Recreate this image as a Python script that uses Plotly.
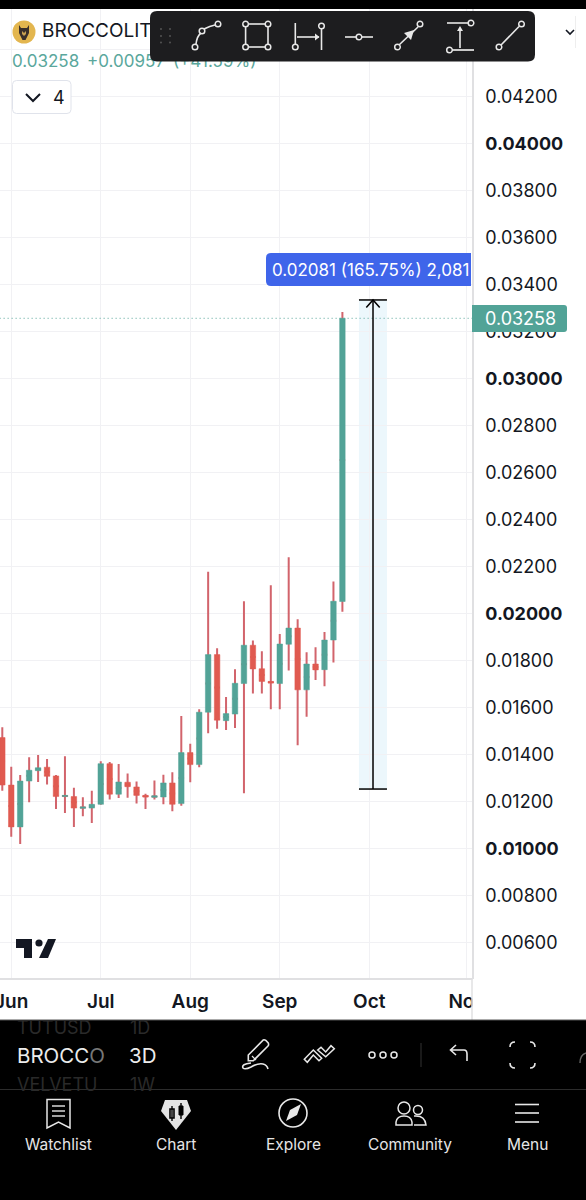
import plotly.graph_objects as go

# ---------- data ----------
bars = list(range(39))
opens = [.01474,.01272,.01094,.01289,.01333,.01348,.01311,.01223,.01223,.01173,
         .01174,.01190,.01363,.01233,.01284,.01264,.01228,.01220,.01221,.01281,
         .01193,.01410,.01359,.01582,.01827,.01546,.01574,.01704,.01867,.01767,
         .01713,.01704,.01871,.01940,.01677,.01787,.01763,.01889,.02053]
closes = [.01272,.01094,.01289,.01335,.01346,.01309,.01223,.01228,.01174,.01179,
          .01190,.01363,.01233,.01285,.01265,.01228,.01221,.01226,.01281,.01190,
          .01410,.01359,.01582,.01827,.01548,.01576,.01705,.01867,.01766,.01713,
          .01706,.01872,.01940,.01677,.01787,.01762,.01889,.02054,.03258]
highs = [.01518,.01350,.01315,.01390,.01400,.01383,.01315,.01394,.01260,.01220,
         .01248,.01373,.01370,.01362,.01321,.01287,.01235,.01291,.01316,.01326,
         .01566,.01448,.01594,.02180,.01854,.01647,.01765,.02054,.01887,.01841,
         .02122,.01915,.02241,.01977,.01837,.01858,.01923,.02138,.03285]
lows = [.01248,.01052,.01021,.01199,.01285,.01274,.01170,.01153,.01094,.01139,
        .01111,.01188,.01211,.01217,.01218,.01194,.01170,.01211,.01190,.01160,
        .01184,.01284,.01348,.01492,.01512,.01506,.01515,.01237,.01661,.01662,
        .01594,.01594,.01759,.01441,.01563,.01719,.01692,.01793,.02009]

month_bars = [1, 11, 21, 31, 41, 51.9]
month_labels = ["Jun", "Jul", "Aug", "Sep", "Oct", "Nov"]
price_ticks = [.006,.008,.010,.012,.014,.016,.018,.020,.022,.024,.026,.028,.030,
               .032,.034,.036,.038,.040,.042,.044]
price_labels = ["0.00600","0.00800","<b>0.01000</b>","0.01200","0.01400","0.01600",
                "0.01800","<b>0.02000</b>","0.02200","0.02400","0.02600","0.02800",
                "<b>0.03000</b>","0.03200","0.03400","0.03600","0.03800",
                "<b>0.04000</b>","0.04200",""]
last_price = 0.03258
measure_low = 0.01255
measure_high = 0.03336
measure_left = 39.85
measure_mid = 41.42
measure_right = 42.98

GREEN = "#52a397"
RED = "#e05a50"
WICK = "#d2646c"
FONT = "Inter, 'Noto Sans', sans-serif"
BLACK = "#000000"
BAR = "#1d1d1f"
LIGHT = "#e8e8e8"
GRID = "#f1f1f4"
EDGE = "#e0e0e2"

fig = go.Figure()
# wicks
mids = [(a + b) / 2 for a, b in zip(opens, closes)]
fig.add_trace(go.Candlestick(
    x=bars, open=mids, high=highs, low=lows, close=mids, whiskerwidth=0,
    increasing=dict(line=dict(color=WICK, width=2), fillcolor=WICK),
    decreasing=dict(line=dict(color=WICK, width=2), fillcolor=WICK),
    hoverinfo="skip", showlegend=False))
# bodies
fig.add_trace(go.Candlestick(
    x=bars, open=opens, close=closes,
    high=[max(a, b) for a, b in zip(opens, closes)],
    low=[min(a, b) for a, b in zip(opens, closes)], whiskerwidth=0,
    increasing=dict(line=dict(color=GREEN, width=0.5), fillcolor=GREEN),
    decreasing=dict(line=dict(color=RED, width=0.5), fillcolor=RED),
    hoverinfo="skip", showlegend=False))
# header texts, below the floating toolbar
fig.add_trace(go.Scatter(
    x=[12], y=[63], xaxis="x2", yaxis="y2", mode="text",
    text=["0.03258 \u2009+0.00957 \u2009(+41.59%)"], textposition="middle right",
    textfont=dict(family=FONT, size=17, color="#5aa79c"),
    hoverinfo="skip", showlegend=False))
fig.add_trace(go.Scatter(
    x=[42], y=[32.5], xaxis="x2", yaxis="y2", mode="text",
    text=["BROCCOLIT"], textposition="middle right",
    textfont=dict(family=FONT, size=19, color="#131722"),
    hoverinfo="skip", showlegend=False))

shapes, annos = [], []


def rect(x0, y0, x1, y1, fill, line=None, w=1):
    shapes.append(dict(type="rect", xref="x2", yref="y2", x0=x0, y0=y0, x1=x1, y1=y1,
                       fillcolor=fill, line=dict(color=line or "rgba(0,0,0,0)", width=w if line else 0)))


def path(d, color=None, w=1.6, fill=None):
    shapes.append(dict(type="path", xref="x2", yref="y2", path=d,
                       fillcolor=fill or "rgba(0,0,0,0)",
                       line=dict(color=color or "rgba(0,0,0,0)", width=w if color else 0)))


def seg(x0, y0, x1, y1, color=LIGHT, w=1.6):
    shapes.append(dict(type="line", xref="x2", yref="y2", x0=x0, y0=y0, x1=x1, y1=y1,
                       line=dict(color=color, width=w)))


def circ(cx, cy, r, color=LIGHT, w=1.5, fill=None):
    shapes.append(dict(type="circle", xref="x2", yref="y2", x0=cx - r, y0=cy - r, x1=cx + r, y1=cy + r,
                       fillcolor=fill or "rgba(0,0,0,0)",
                       line=dict(color=color or "rgba(0,0,0,0)", width=w if color else 0)))


def rrect(x0, y0, x1, y1, r):
    return (f"M{x0+r},{y0} L{x1-r},{y0} Q{x1},{y0} {x1},{y0+r} L{x1},{y1-r} Q{x1},{y1} {x1-r},{y1} "
            f"L{x0+r},{y1} Q{x0},{y1} {x0},{y1-r} L{x0},{y0+r} Q{x0},{y0} {x0+r},{y0} Z")


def text(x, y, s, size, color, anchor="left", weight=None):
    annos.append(dict(xref="x2", yref="y2", x=x, y=y, text=s, showarrow=False, xanchor=anchor,
                      yanchor="middle", font=dict(family=FONT, size=size, color=color),
                      borderpad=0, borderwidth=0))


# ---------- measure tool and last price, on the chart's own scales ----------
def data_shape(**kw):
    kw.update(xref="x", yref="y")
    shapes.append(kw)


data_shape(type="rect", x0=measure_left, x1=measure_right, y0=measure_low, y1=measure_high,
           fillcolor="rgba(100,190,230,0.12)", line=dict(width=0), layer="below")
data_shape(type="line", x0=-0.3, x1=52.48, y0=last_price, y1=last_price,
           line=dict(color="#52a397", width=1, dash="1px,3px"))
data_shape(type="line", x0=measure_left, x1=measure_right, y0=measure_high, y1=measure_high,
           line=dict(color="#000000", width=1.5))
data_shape(type="line", x0=measure_left, x1=measure_right, y0=measure_low, y1=measure_low,
           line=dict(color="#000000", width=1.5))
data_shape(type="line", x0=measure_mid, x1=measure_mid, y0=measure_low, y1=measure_high,
           line=dict(color="#000000", width=1.5))
data_shape(type="path",
           path=f"M{measure_mid-0.75},{measure_high-0.00032} L{measure_mid},{measure_high} L{measure_mid+0.75},{measure_high-0.00032}",
           line=dict(color="#000000", width=1.5))

# ---------- app chrome, in page pixels ----------
rect(0, 0, 586, 9, BLACK)
# scale panel masks the clipped month label
rect(472.5, 979, 586, 1020, "#ffffff")
seg(472, 978, 472, 1020, EDGE, 1.5)
rect(0, 1020, 586, 1200, BLACK)
seg(0, 1089.5, 586, 1089.5, "#2c2c2c", 1)
seg(0, 1020, 586, 1020, "#555555", 1)

# header
circ(24, 32, 11.5, None, 0, "#e3b64f")
path("M19,25 L21,28 L27,28 L29,25 L29,33 L25.5,40 L22.5,40 L19,33 Z", fill="#3a2f2a")
path("M22,31 L24,33 L24,36 L22,34 Z M26,31 L24,33 L24,36 L26,34 Z", fill="#c9a050")
# interval button
path(rrect(12.5, 80.5, 71, 113.5, 4), color="#e0e3eb", w=1, fill="#ffffff")
path("M26,94 L33,101 L40,94", color="#131722", w=2)
text(53, 97, "4", 18, "#131722")
# dropdown at right of toolbar
path("M566,30 L570,34 L574,30", color="#131722", w=1.6)
seg(575.5, 16, 575.5, 48, "#eeeeee", 1)

# floating toolbar
path(rrect(150, 11, 535, 61.5, 7), fill=BAR)
for dx in (161, 170):
    for dy in (29, 36, 42.5):
        circ(dx, dy, 0.9, None, 0, "#5a5a5a")
# path tool
path("M196,44 Q197,36 201,33", LIGHT)
path("M204,29 Q210,26 215,25", LIGHT)
circ(195, 47, 2.8); circ(202, 31, 2.8); circ(218, 24, 2.8)
# rectangle tool
for a, b, c, d in [(248, 24, 265, 24), (248, 47, 265, 47), (245.6, 27, 245.6, 44), (268, 27, 268, 44)]:
    seg(a, b, c, d)
for cx, cy in [(245.6, 24), (268, 24), (245.6, 47), (268, 47)]:
    circ(cx, cy, 2.8)
# date range tool
seg(295.3, 23, 295.3, 44); circ(295.3, 47, 2.8)
seg(297, 37, 319, 37); path("M315,33.5 L319.5,37 L315,40.5 Z", fill=LIGHT)
seg(321.5, 29, 321.5, 50); circ(321.5, 26, 2.8)
# horizontal tool
seg(345, 37, 356, 37); seg(362, 37, 373, 37); circ(359, 37, 2.8)
# arrow tool
seg(399, 45, 418, 27); path("M404,33 L414,30 L411,40 Z", fill=LIGHT); circ(397.5, 47, 2.8); circ(420, 24, 2.8)
# price range tool
seg(447, 23, 468, 23); circ(471, 23, 2.8)
seg(452, 50, 474, 50, "#c8c8c8", 2); circ(449.5, 50, 2.8)
seg(460, 48, 460, 28); path("M457,31 L460,26 L463,31 Z", fill=LIGHT)
# line tool
seg(501, 45, 519, 26.5); circ(499, 47, 2.8); circ(521.5, 24, 2.8)

# TradingView mark
path("M16,939 L32,939 L32,958 L24,958 L24,948 L16,948 Z", fill="#131722")
circ(39, 943, 3.6, None, 0, "#131722")
path("M48,939 L56,939 L48,958 L39,958 Z", fill="#131722")

# price labels over the scale
path("M472,305 L564,305 Q567,305 567,308 L567,329 Q567,332 564,332 L472,332 Z", fill=GREEN)
text(485, 318.5, "0.03258", 18, "#ffffff")
path("M271,253 L471,253 L471,286 L271,286 Q266,286 266,281 L266,258 Q266,253 271,253 Z", fill="#3f65ea")
text(272, 270, "0.02081 (165.75%) 2,081", 17, "#ffffff")

# symbol list
text(17, 1027, "TUTUSD", 18, "#2a2a2a")
text(130, 1027, "1D", 18, "#2a2a2a")
text(17, 1055.5, "BROCC<span style='color:#777777'>O</span>", 20.5, "#ececec")
text(129, 1055.5, "3D", 20.5, "#ececec")
text(17, 1084, "VELVETU", 18, "#2a2a2a")
text(130, 1084, "1W", 18, "#2a2a2a")
# pen
path("M248.3,1055 L263.3,1040 Q265,1039 268.3,1043 Q269,1045 268,1046 L253.3,1060.7 L248.3,1060.7 Z", LIGHT, 1.6)
path("M252,1056 L256,1060", LIGHT, 1.2)
path("M251,1063 Q241,1064 243,1068 Q245,1070 251,1067 Q258,1063 263,1064 Q267,1065 268,1069", LIGHT, 1.6)
# zig-zag
path("M304.3,1059.3 L313.3,1050 L321.7,1058.3 L319,1060.7 L313.3,1055 L307.3,1062.3 Z", LIGHT, 1.5)
path("M317.7,1050 L321,1047.3 L325.7,1052 L331,1045.7 L334.3,1048.7 L325.7,1056.7 Z", LIGHT, 1.5)
# dots
for cx in (372, 383, 394):
    circ(cx, 1055, 3, LIGHT, 1.5)
seg(421, 1043, 421, 1067, "#333333", 1)
# undo
path("M451,1050 L464,1050 Q467,1050 467,1054 L467,1061 M456,1045 L450.5,1050 L456,1055", LIGHT, 1.6)
# fullscreen
for cx, cy, sx, sy in [(510, 1042, 1, 1), (535, 1042, -1, 1), (510, 1068, 1, -1), (535, 1068, -1, -1)]:
    path(f"M{cx},{cy+5*sy} Q{cx},{cy} {cx+5*sx},{cy}", LIGHT, 1.6)
path("M580,1063 Q580,1055 586,1053", "#666666", 1.4)
# watchlist
path("M47,1099.5 L70,1099.5 L70,1128 L58.5,1122 L47,1128 Z", LIGHT, 1.5)
for yy in (1106, 1111, 1116):
    seg(52, yy, 65, yy, LIGHT, 1.4)
# chart
path("M165,1100 L187,1100 L191,1111 L176,1130 L161,1111 Z", fill="#e4e4e4")
rect(170, 1109, 174, 1118, "rgba(0,0,0,0)", BLACK, 1.6)
seg(172, 1106, 172, 1121, BLACK, 1.4)
rect(179, 1106, 183, 1115, BLACK, BLACK, 1)
seg(181, 1103, 181, 1119, BLACK, 1.4)
# explore
circ(293, 1113, 14, LIGHT, 1.6)
path("M286,1121 L290,1110 L301,1104 L297,1115 Z", fill=LIGHT)
# community
circ(404, 1108, 6, LIGHT, 1.5)
circ(418, 1110, 4.5, LIGHT, 1.5)
path("M396,1125 L396,1122 Q397,1116 404,1116 Q411,1116 412,1122 L412,1125 Z", LIGHT, 1.5)
path("M414,1116 Q425,1115 426,1125 L414,1125", LIGHT, 1.5)
# menu
for yy in (1104.5, 1113, 1122):
    seg(515, yy, 539, yy, LIGHT, 1.6)
for cx, s in [(58, "Watchlist"), (175.5, "Chart"), (293, "Explore"), (410, "Community"), (527, "Menu")]:
    text(cx, 1144, s, 15.5, "#e6e6e6", "center")

fig.update_layout(
    template="none",
    width=586, height=1200, margin=dict(l=0, r=0, t=0, b=0, pad=0), autosize=False,
    paper_bgcolor="#ffffff", plot_bgcolor="rgba(0,0,0,0)", boxgap=0.12, boxmode="overlay",
    showlegend=False, shapes=shapes, annotations=annos,
    font=dict(family=FONT, color="#131722"),
    xaxis=dict(domain=[0, 472 / 586], range=[-0.257, 52.48], rangeslider=dict(visible=False),
               tickmode="array", tickvals=month_bars, ticktext=month_labels, automargin=False,
               ticklabeloverflow="allow", tickfont=dict(family=FONT, size=19, color="#131722", weight=600),
               ticks="", ticklabelstandoff=5, showgrid=True, gridcolor=GRID, gridwidth=1,
               zeroline=False, showline=True, linecolor=EDGE, linewidth=1.5, anchor="y", fixedrange=True),
    yaxis=dict(domain=[222 / 1200, 1191 / 1200], range=[0.00451, 0.04574], side="right", automargin=False,
               tickmode="array", tickvals=price_ticks, ticktext=price_labels,
               tickfont=dict(family=FONT, size=18, color="#131722"), ticks="", ticklabelstandoff=8,
               showgrid=True, gridcolor=GRID, gridwidth=1, zeroline=False,
               showline=True, linecolor=EDGE, linewidth=1.5, anchor="x", fixedrange=True),
    xaxis2=dict(domain=[0, 1], range=[0, 586], visible=False, anchor="y2", fixedrange=True, automargin=False),
    yaxis2=dict(domain=[0, 1], range=[1200, 0], visible=False, anchor="x2", fixedrange=True, automargin=False),
)

fig.write_html("out.html", config=dict(displayModeBar=False, responsive=False),
               post_script="document.body.style.margin='0';document.documentElement.style.overflow='hidden';")
